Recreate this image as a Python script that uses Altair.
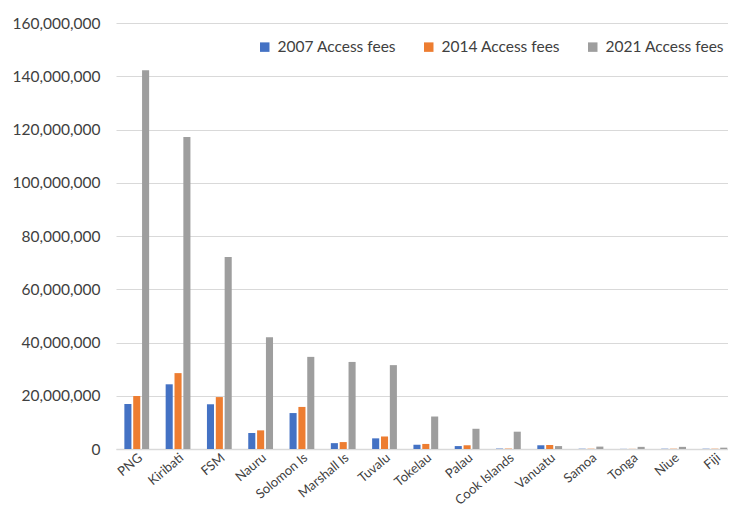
import altair as alt
import pandas as pd

countries = ["PNG", "Kiribati", "FSM", "Nauru", "Solomon Is", "Marshall Is", "Tuvalu",
             "Tokelau", "Palau", "Cook Islands", "Vanuatu", "Samoa", "Tonga", "Niue", "Fiji"]
series_names = ["2007 Access fees", "2014 Access fees", "2021 Access fees"]
fees_2007 = [16900000, 24300000, 16800000, 6000000, 13500000, 2200000, 4000000,
             1600000, 1100000, 150000, 1400000, 100000, 50000, 100000, 100000]
fees_2014 = [19900000, 28500000, 19500000, 7000000, 15800000, 2600000, 4700000,
             1900000, 1400000, 150000, 1500000, 100000, 50000, 100000, 100000]
fees_2021 = [142300000, 117200000, 72100000, 42000000, 34600000, 32700000, 31500000,
             12200000, 7600000, 6500000, 1100000, 900000, 800000, 800000, 500000]
colors = ["#4472C4", "#ED7D31", "#9E9E9E"]
y_ticks = [0, 20000000, 40000000, 60000000, 80000000, 100000000, 120000000, 140000000, 160000000]

rows = []
for name, vals in zip(series_names, [fees_2007, fees_2014, fees_2021]):
    for c, v in zip(countries, vals):
        rows.append({"country": c, "series": name, "value": v})
df = pd.DataFrame(rows)

FONT = "Lato"
TXT = "#404040"

chart = alt.Chart(df).mark_bar().encode(
    x=alt.X("country:N", sort=countries,
            scale=alt.Scale(paddingInner=0.4, paddingOuter=0.11, align=0.92),
            axis=alt.Axis(title=None, labelAngle=-40, ticks=False, domainColor="#D9D9D9",
                          domainWidth=1.5, labelFont=FONT, labelFontSize=13,
                          labelColor=TXT, labelPadding=2)),
    xOffset=alt.XOffset("series:N", sort=series_names, scale=alt.Scale(paddingInner=0.2)),
    y=alt.Y("value:Q", scale=alt.Scale(domain=[0, 160000000]),
            axis=alt.Axis(title=None, format=",d", values=y_ticks, domain=False, ticks=False,
                          gridColor="#D9D9D9", gridWidth=1.2, labelFont=FONT,
                          labelFontSize=15.5, labelColor=TXT, labelPadding=16)),
    color=alt.Color("series:N", sort=series_names,
                    scale=alt.Scale(domain=series_names, range=colors),
                    legend=alt.Legend(title=None, orient="none", legendX=141, legendY=16,
                                      direction="horizontal", symbolType="square",
                                      symbolSize=90, symbolStrokeWidth=0,
                                      labelFont=FONT, labelFontSize=15.5, labelColor=TXT,
                                      columnPadding=24, labelOffset=5)),
).properties(
    width=612, height=426,
    autosize=alt.AutoSizeParams(type="none"),
    padding={"left": 108, "top": 15, "right": 0, "bottom": 56},
    background="white",
).configure_view(stroke=None)

chart.save("out.html", embed_options={"renderer": "svg", "actions": False})
